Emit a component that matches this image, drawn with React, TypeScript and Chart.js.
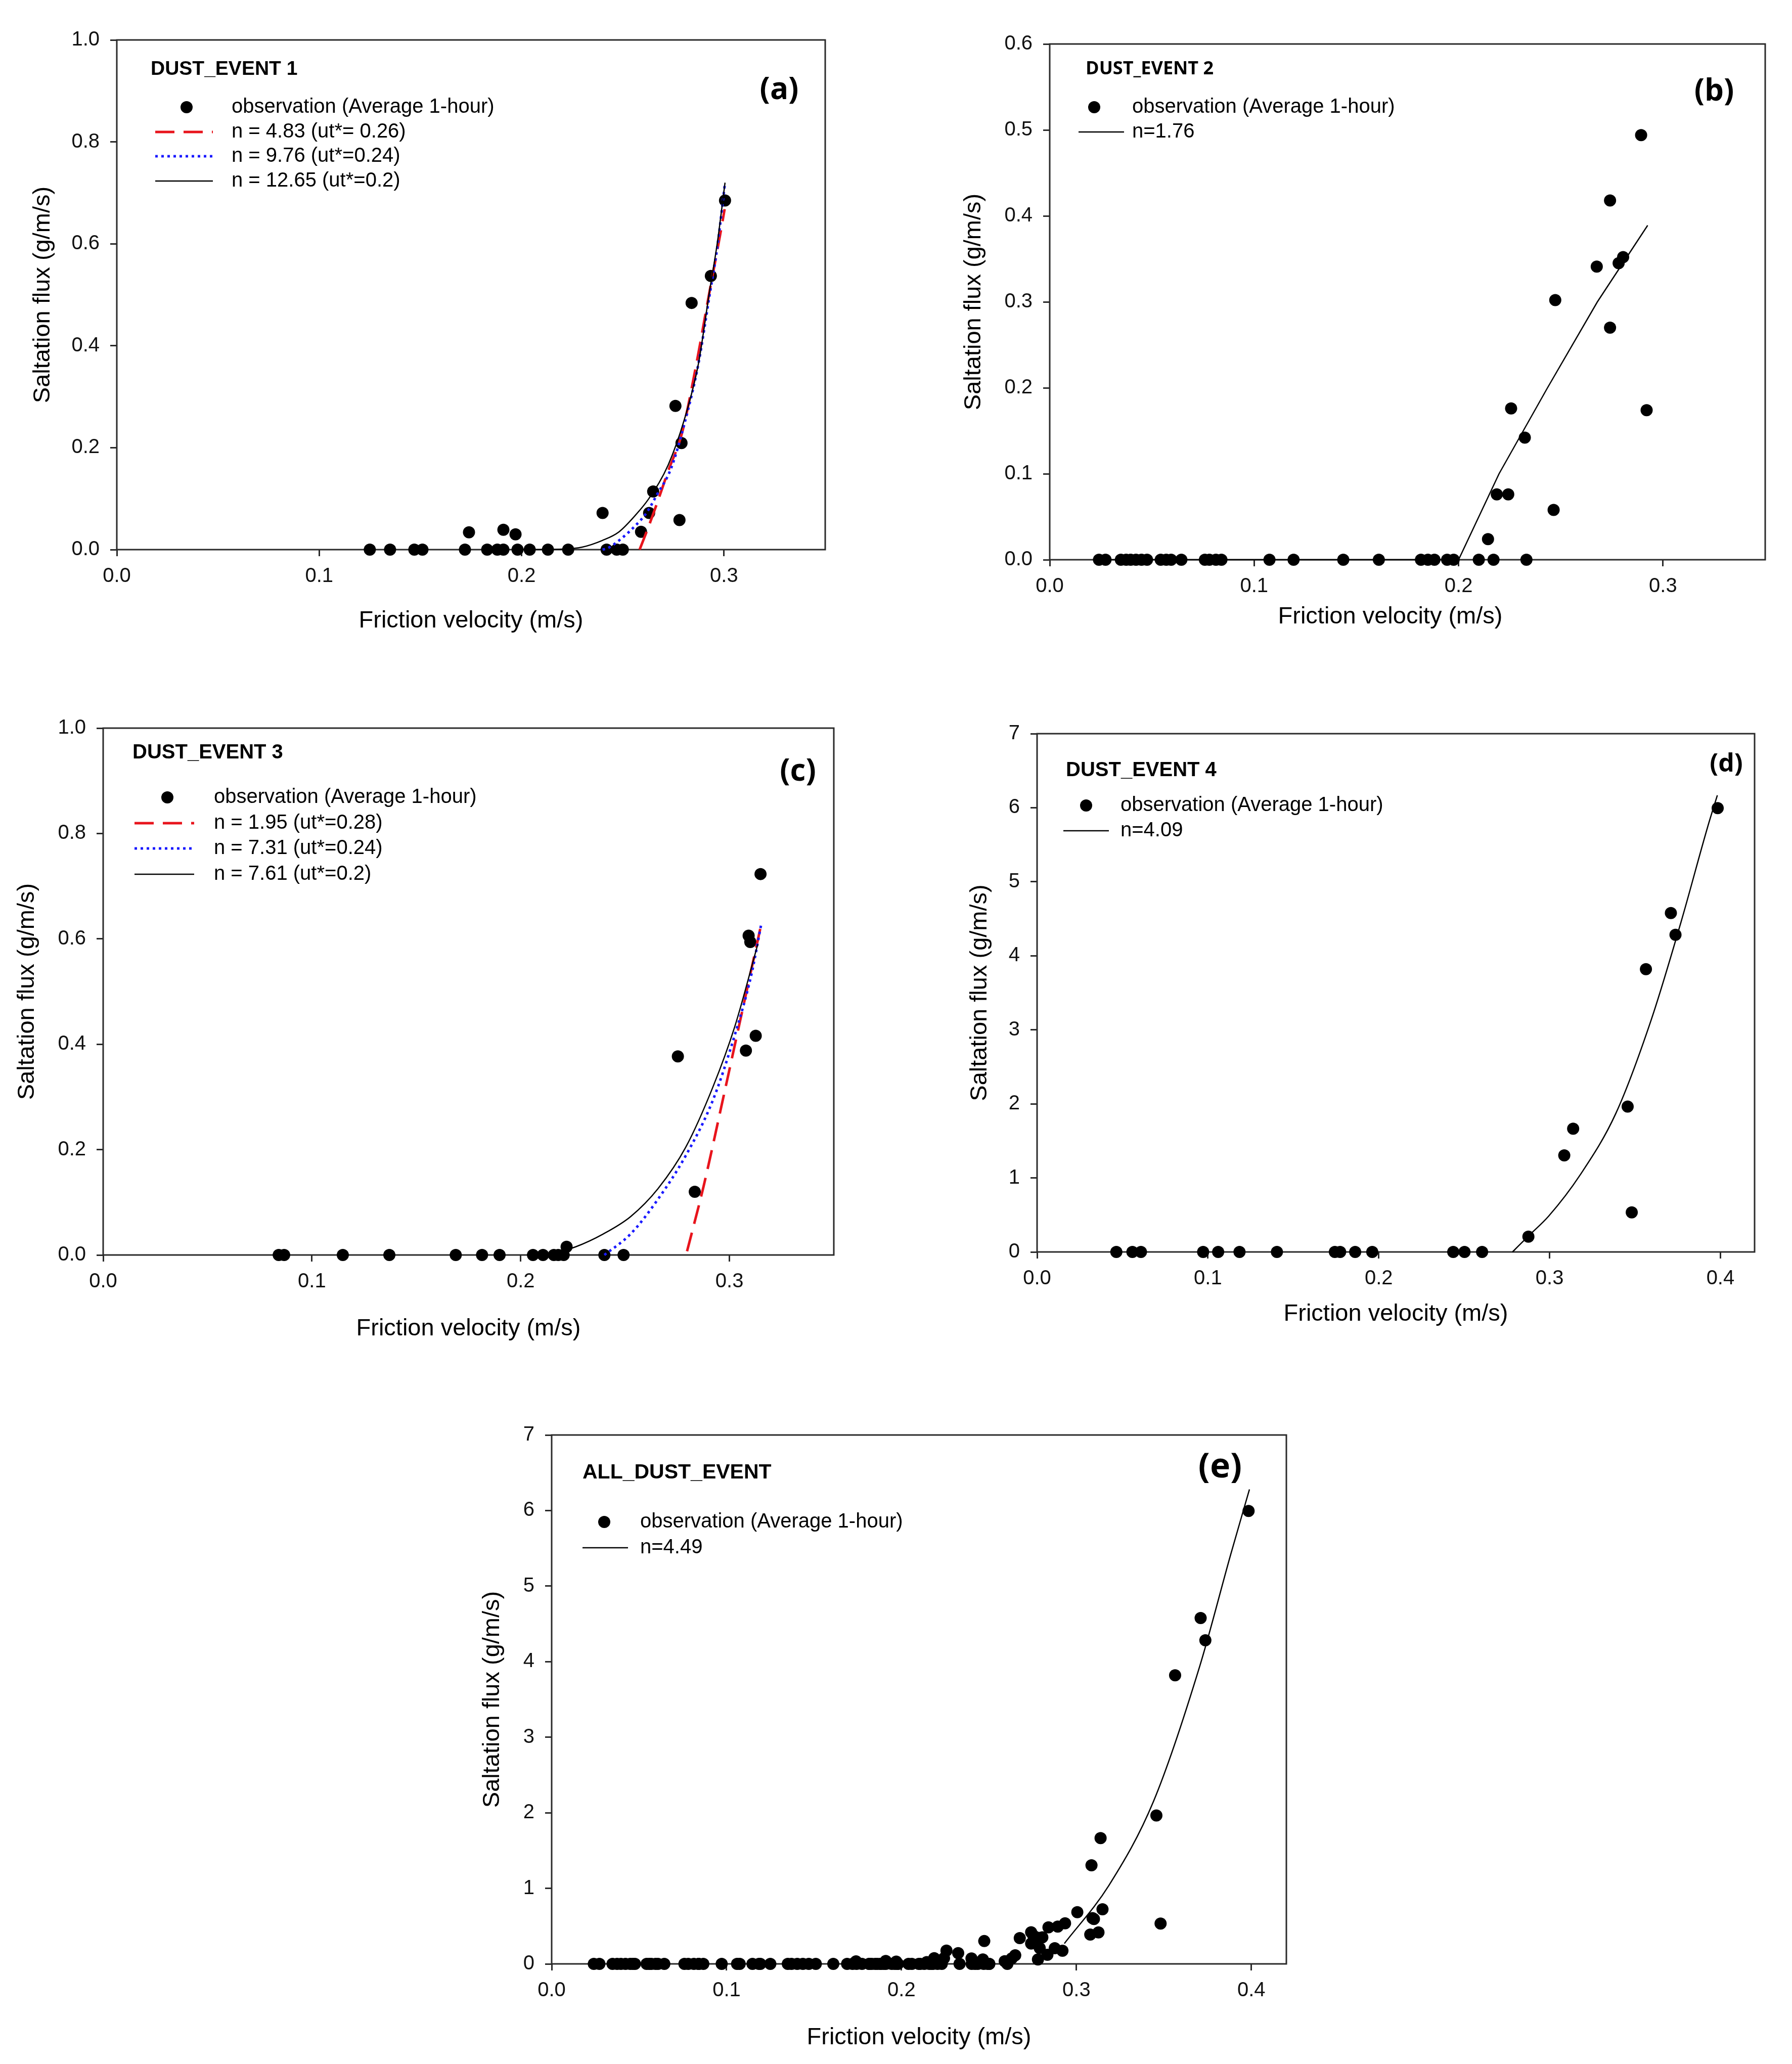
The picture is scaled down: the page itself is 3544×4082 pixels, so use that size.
import { useEffect, useRef } from "react";
import { Chart, registerables } from "chart.js";

Chart.register(...registerables);
Chart.defaults.font.family = "'Liberation Sans', Arial, sans-serif";

type XY = [number, number];

// friction velocity (m/s), saltation flux (g/m/s)
const ev1Obs: XY[] = [
  [0.125, 0], [0.135, 0], [0.147, 0], [0.151, 0], [0.172, 0], [0.183, 0], [0.188, 0],
  [0.191, 0], [0.198, 0], [0.204, 0], [0.213, 0], [0.223, 0], [0.242, 0], [0.247, 0], [0.25, 0],
  [0.174, 0.034], [0.191, 0.039], [0.197, 0.03], [0.24, 0.072], [0.259, 0.035], [0.263, 0.072],
  [0.265, 0.114], [0.276, 0.282], [0.279, 0.209], [0.278, 0.058], [0.284, 0.484],
  [0.2935, 0.537], [0.3005, 0.685],
];
const ev1FitRed: XY[] = [
  [0.2583, 0], [0.2629, 0.047], [0.267, 0.092], [0.2724, 0.154], [0.2792, 0.228],
  [0.2859, 0.355], [0.2927, 0.503], [0.2981, 0.618], [0.3003, 0.668],
];
const ev1FitBlue: XY[] = [
  [0.24, 0], [0.2426, 0.003], [0.2494, 0.022], [0.2562, 0.047], [0.2616, 0.0715], [0.267, 0.1086],
  [0.2737, 0.158], [0.2805, 0.248], [0.2873, 0.3635], [0.2927, 0.495], [0.2967, 0.594], [0.3005, 0.72],
];
const ev1FitBlack: XY[] = [
  [0.2, 0], [0.22, 0.001], [0.23, 0.005], [0.2399, 0.018], [0.248, 0.0345], [0.2562, 0.0674],
  [0.2629, 0.1003], [0.2724, 0.166], [0.2805, 0.2566], [0.2873, 0.3635], [0.2927, 0.503],
  [0.2967, 0.602], [0.3005, 0.72],
];

const ev2Obs: XY[] = [
  [0.0241, 0], [0.0273, 0], [0.0348, 0], [0.0374, 0], [0.0396, 0], [0.0422, 0], [0.0449, 0],
  [0.0476, 0], [0.0543, 0], [0.057, 0], [0.0594, 0], [0.0644, 0], [0.0759, 0], [0.0781, 0],
  [0.0813, 0], [0.084, 0], [0.1075, 0], [0.1193, 0], [0.1436, 0], [0.161, 0], [0.1816, 0],
  [0.185, 0], [0.1882, 0], [0.1944, 0], [0.1976, 0], [0.2099, 0], [0.2171, 0], [0.2332, 0],
  [0.2144, 0.024], [0.2187, 0.076], [0.2243, 0.076], [0.2257, 0.176], [0.2324, 0.142],
  [0.2465, 0.058], [0.2473, 0.302], [0.2676, 0.341], [0.2741, 0.27], [0.2741, 0.418],
  [0.2783, 0.345], [0.2805, 0.352], [0.2893, 0.494], [0.292, 0.174],
];
const ev2Fit: XY[] = [[0.024, 0], [0.2, 0], [0.2198, 0.1], [0.2435, 0.2], [0.2679, 0.3], [0.2925, 0.389]];

const ev3Obs: XY[] = [
  [0.0841, 0], [0.0867, 0], [0.1148, 0], [0.1371, 0], [0.1689, 0], [0.1815, 0], [0.1899, 0],
  [0.2059, 0], [0.2107, 0], [0.2159, 0], [0.218, 0], [0.2206, 0], [0.2401, 0], [0.2493, 0],
  [0.222, 0.0156], [0.2753, 0.377], [0.2834, 0.12], [0.3079, 0.388], [0.3092, 0.606],
  [0.31, 0.594], [0.3126, 0.416], [0.3149, 0.723],
];
const ev3FitRed: XY[] = [[0.2797, 0.007], [0.2876, 0.13], [0.2973, 0.303], [0.3052, 0.446], [0.3152, 0.627]];
const ev3FitBlue: XY[] = [
  [0.2401, 0], [0.2527, 0.04], [0.2658, 0.106], [0.279, 0.188], [0.2921, 0.294],
  [0.3026, 0.418], [0.3105, 0.532], [0.3152, 0.627],
];
const ev3FitBlack: XY[] = [
  [0.213, 0], [0.2264, 0.0156], [0.2396, 0.04], [0.2527, 0.073], [0.2658, 0.126],
  [0.279, 0.204], [0.2921, 0.319], [0.3026, 0.434], [0.3136, 0.59],
];

const ev4Obs: XY[] = [
  [0.0464, 0], [0.0558, 0], [0.0608, 0], [0.0972, 0], [0.106, 0], [0.1185, 0], [0.1404, 0],
  [0.1743, 0], [0.1774, 0], [0.1862, 0], [0.1962, 0], [0.2436, 0], [0.2502, 0], [0.2605, 0],
  [0.2876, 0.207], [0.3086, 1.305], [0.3138, 1.665], [0.3457, 1.964], [0.3481, 0.534],
  [0.3564, 3.819], [0.371, 4.577], [0.3737, 4.283], [0.3984, 5.994],
];
const ev4Fit: XY[] = [
  [0.2783, 0], [0.2876, 0.215], [0.2995, 0.485], [0.318, 1.044], [0.3388, 1.872],
  [0.3595, 3.136], [0.377, 4.461], [0.3926, 5.746], [0.3982, 6.168],
];

const allObs: XY[] = [...ev1Obs, ...ev2Obs, ...ev3Obs, ...ev4Obs];
const allFit: XY[] = [
  [0.2931, 0.27], [0.3186, 1.04], [0.344, 2.148], [0.3705, 3.941], [0.3882, 5.42], [0.3989, 6.28],
];

const RED = "#e8141c";
const BLUE = "#1a1aff";
const AXIS = "#2a2a2a";
const PAD_L = 200;
const PAD_T = 70;
const PAD_R = 30;
const PAD_B = 190;

const OBS_TEXT = "observation (Average 1-hour)";

interface Curve {
  pts: XY[];
  color: string;
  width: number;
  dash?: number[];
  straight?: boolean;
}

interface Row {
  dot?: boolean;
  color?: string;
  width?: number;
  dash?: number[];
  text: string;
}

interface PanelProps {
  box: [number, number, number, number];
  xMax: number;
  yMax: number;
  yStep: number;
  yDigits: number;
  obs: XY[];
  curves: Curve[];
  title: string;
  titleFont: string;
  titleAt: [number, number];
  tag: string;
  tagSize: number;
  tagAt: [number, number];
  rows: Row[];
  rowY: number[];
  dotX: number;
  lineX: [number, number];
  textX: number;
  xTitleAt: [number, number];
  yTitleX: number;
}

function Panel(p: PanelProps) {
  const canvasRef = useRef<HTMLCanvasElement>(null);
  const [L, T, R, B] = p.box;

  useEffect(() => {
    if (!canvasRef.current) return;

    const decor = {
      id: "decor",
      beforeDatasetsDraw(chart: Chart) {
        const { ctx, chartArea: a } = chart;
        ctx.save();
        ctx.strokeStyle = AXIS;
        ctx.lineWidth = 3;
        ctx.strokeRect(a.left, a.top, a.right - a.left, a.bottom - a.top);
        ctx.restore();
      },
      afterDatasetsDraw(chart: Chart) {
        const { ctx, chartArea: a } = chart;
        ctx.save();
        ctx.fillStyle = "#000";
        ctx.textBaseline = "middle";

        ctx.font = p.titleFont;
        ctx.textAlign = "left";
        ctx.fillText(p.title, a.left + p.titleAt[0], a.top + p.titleAt[1]);

        ctx.font = `bold ${p.tagSize}px 'Open Sans', sans-serif`;
        ctx.textAlign = "center";
        ctx.fillText(p.tag, a.right - p.tagAt[0], a.top + p.tagAt[1]);

        ctx.font = "40px 'Liberation Sans', Arial, sans-serif";
        p.rows.forEach((row, i) => {
          const y = a.top + p.rowY[i];
          if (row.dot) {
            ctx.beginPath();
            ctx.arc(a.left + p.dotX, y, 12, 0, Math.PI * 2);
            ctx.fill();
          } else {
            ctx.beginPath();
            ctx.strokeStyle = row.color || "#000";
            ctx.lineWidth = row.width || 2.5;
            ctx.setLineDash(row.dash || []);
            ctx.moveTo(a.left + p.lineX[0], y);
            ctx.lineTo(a.left + p.lineX[1], y);
            ctx.stroke();
            ctx.setLineDash([]);
          }
          ctx.textAlign = "left";
          ctx.fillText(row.text, a.left + p.textX, y);
        });

        ctx.font = "47px 'Liberation Sans', Arial, sans-serif";
        ctx.textAlign = "center";
        ctx.fillText("Friction velocity (m/s)", (a.left + a.right) / 2 + p.xTitleAt[0], a.bottom + p.xTitleAt[1]);
        ctx.translate(a.left - p.yTitleX, (a.top + a.bottom) / 2);
        ctx.rotate(-Math.PI / 2);
        ctx.fillText("Saltation flux (g/m/s)", 0, 0);
        ctx.restore();
      },
    };

    const curveSets = p.curves.map((c) => ({
      type: "scatter" as const,
      data: c.pts.map(([x, y]) => ({ x, y })),
      showLine: true,
      borderColor: c.color,
      borderWidth: c.width,
      borderDash: c.dash || [],
      pointRadius: 0,
      cubicInterpolationMode: c.straight ? ("default" as const) : ("monotone" as const),
      tension: 0,
      clip: false as const,
    }));

    const chart = new Chart(canvasRef.current, {
      type: "scatter",
      data: {
        datasets: [
          ...curveSets,
          {
            data: p.obs.map(([x, y]) => ({ x, y })),
            pointRadius: 12,
            pointBackgroundColor: "#000",
            pointBorderWidth: 0,
            showLine: false,
            clip: false,
          },
        ],
      },
      options: {
        responsive: false,
        animation: false,
        devicePixelRatio: 1,
        events: [],
        layout: { padding: { left: 0, top: PAD_T, right: PAD_R, bottom: 0 } },
        plugins: { legend: { display: false }, tooltip: { enabled: false } },
        scales: {
          x: {
            type: "linear",
            min: 0,
            max: p.xMax,
            afterFit: (s: any) => {
              s.height = PAD_B;
            },
            ticks: {
              stepSize: 0.1,
              includeBounds: false,
              maxRotation: 0,
              autoSkip: false,
              padding: 16,
              color: "#111",
              font: { size: 40 },
              callback: (v: any) => Number(v).toFixed(1),
            },
            grid: { drawOnChartArea: false, tickLength: 13, lineWidth: 3, color: AXIS },
            border: { display: false },
          },
          y: {
            type: "linear",
            min: 0,
            max: p.yMax,
            afterFit: (s: any) => {
              s.width = PAD_L;
            },
            ticks: {
              stepSize: p.yStep,
              includeBounds: false,
              autoSkip: false,
              padding: 21,
              color: "#111",
              font: { size: 40 },
              callback: (v: any) => Number(v).toFixed(p.yDigits),
            },
            grid: { drawOnChartArea: false, tickLength: 13, lineWidth: 3, color: AXIS },
            border: { display: false },
          },
        },
      },
      plugins: [decor],
    });

    return () => {
      chart.destroy();
    };
  }, []);

  return (
    <canvas
      ref={canvasRef}
      width={R - L + PAD_L + PAD_R}
      height={B - T + PAD_T + PAD_B}
      style={{ position: "absolute", left: L - PAD_L, top: T - PAD_T }}
    />
  );
}

const obsRow: Row = { dot: true, text: OBS_TEXT };

export default function App() {
  return (
    <div
      style={{
        position: "absolute",
        left: 0,
        top: 0,
        width: 3544,
        height: 4082,
        overflow: "hidden",
        background: "#fff",
      }}
    >
      <Panel
        box={[231, 79, 1632, 1087]}
        xMax={0.35}
        yMax={1}
        yStep={0.2}
        yDigits={1}
        obs={ev1Obs}
        curves={[
          { pts: ev1FitBlack, color: "#000", width: 2.5 },
          { pts: ev1FitBlue, color: BLUE, width: 5, dash: [5, 7] },
          { pts: ev1FitRed, color: RED, width: 5, dash: [38, 18] },
        ]}
        title="DUST_EVENT 1"
        titleFont="bold 39px 'Liberation Sans', Arial, sans-serif"
        titleAt={[67, 58]}
        tag="(a)"
        tagSize={60}
        tagAt={[91, 100]}
        rows={[
          obsRow,
          { color: RED, width: 5, dash: [38, 18], text: "n = 4.83 (ut*= 0.26)" },
          { color: BLUE, width: 5, dash: [5, 7], text: "n = 9.76 (ut*=0.24)" },
          { color: "#000", width: 2.5, text: "n = 12.65 (ut*=0.2)" },
        ]}
        rowY={[133, 182, 230, 279]}
        dotX={138}
        lineX={[76, 190]}
        textX={227}
        xTitleAt={[0, 141]}
        yTitleX={146}
      />
      <Panel
        box={[2076, 87, 3491, 1107]}
        xMax={0.35}
        yMax={0.6}
        yStep={0.1}
        yDigits={1}
        obs={ev2Obs}
        curves={[{ pts: ev2Fit, color: "#000", width: 2.5, straight: true }]}
        title="DUST_EVENT 2"
        titleFont="bold 36px 'Open Sans', sans-serif"
        titleAt={[71, 50]}
        tag="(b)"
        tagSize={60}
        tagAt={[101, 95]}
        rows={[obsRow, { color: "#000", width: 2.5, text: "n=1.76" }]}
        rowY={[125, 174]}
        dotX={88}
        lineX={[57, 147]}
        textX={163}
        xTitleAt={[-34, 113]}
        yTitleX={150}
      />
      <Panel
        box={[204, 1440, 1649, 2482]}
        xMax={0.35}
        yMax={1}
        yStep={0.2}
        yDigits={1}
        obs={ev3Obs}
        curves={[
          { pts: ev3FitBlack, color: "#000", width: 2.5 },
          { pts: ev3FitBlue, color: BLUE, width: 5, dash: [5, 7] },
          { pts: ev3FitRed, color: RED, width: 5, dash: [38, 18] },
        ]}
        title="DUST_EVENT 3"
        titleFont="bold 40px 'Liberation Sans', Arial, sans-serif"
        titleAt={[58, 49]}
        tag="(c)"
        tagSize={60}
        tagAt={[71, 87]}
        rows={[
          obsRow,
          { color: RED, width: 5, dash: [38, 18], text: "n = 1.95 (ut*=0.28)" },
          { color: BLUE, width: 5, dash: [5, 7], text: "n = 7.31 (ut*=0.24)" },
          { color: "#000", width: 2.5, text: "n = 7.61 (ut*=0.2)" },
        ]}
        rowY={[137, 188, 238, 289]}
        dotX={127}
        lineX={[62, 180]}
        textX={219}
        xTitleAt={[0, 146]}
        yTitleX={150}
      />
      <Panel
        box={[2051, 1451, 3470, 2476]}
        xMax={0.42}
        yMax={7}
        yStep={1}
        yDigits={0}
        obs={ev4Obs}
        curves={[{ pts: ev4Fit, color: "#000", width: 2.5 }]}
        title="DUST_EVENT 4"
        titleFont="bold 40px 'Liberation Sans', Arial, sans-serif"
        titleAt={[57, 73]}
        tag="(d)"
        tagSize={50}
        tagAt={[56, 61]}
        rows={[obsRow, { color: "#000", width: 2.5, text: "n=4.09" }]}
        rowY={[142, 192]}
        dotX={97}
        lineX={[52, 142]}
        textX={165}
        xTitleAt={[0, 123]}
        yTitleX={113}
      />
      <Panel
        box={[1091, 2838, 2544, 3884]}
        xMax={0.42}
        yMax={7}
        yStep={1}
        yDigits={0}
        obs={allObs}
        curves={[{ pts: allFit, color: "#000", width: 2.5 }]}
        title="ALL_DUST_EVENT"
        titleFont="bold 41px 'Liberation Sans', Arial, sans-serif"
        titleAt={[61, 75]}
        tag="(e)"
        tagSize={68}
        tagAt={[131, 65]}
        rows={[obsRow, { color: "#000", width: 2.5, text: "n=4.49" }]}
        rowY={[172, 223]}
        dotX={104}
        lineX={[61, 151]}
        textX={175}
        xTitleAt={[0, 146]}
        yTitleX={117}
      />
    </div>
  );
}
